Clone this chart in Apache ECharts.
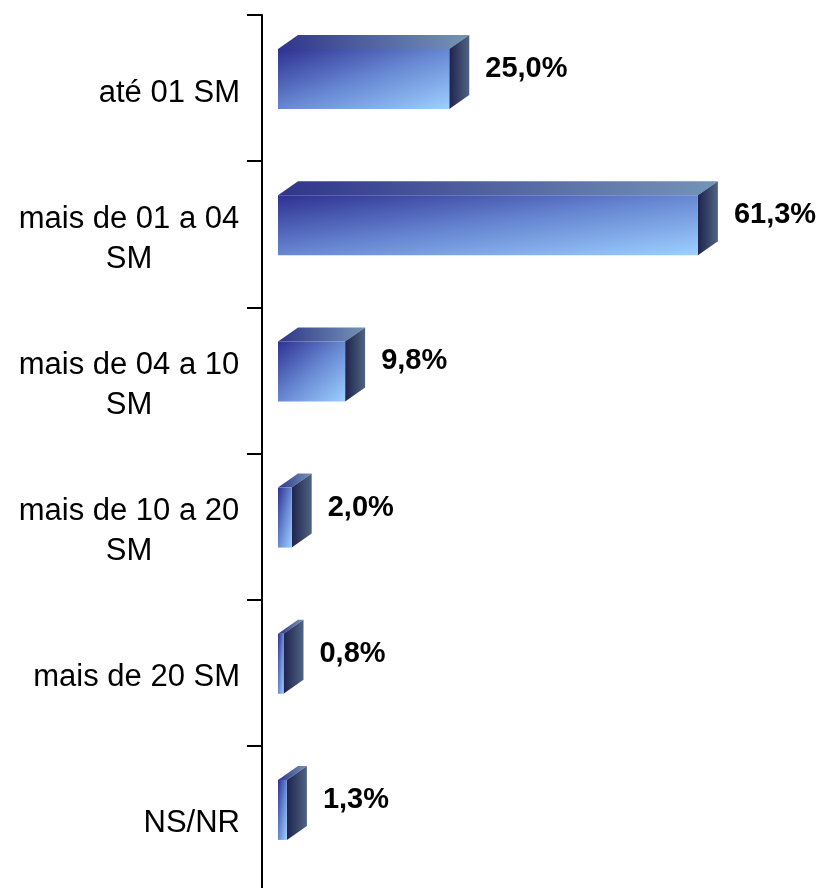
<!DOCTYPE html>
<html>
<head>
<meta charset="utf-8">
<script src="https://cdn.jsdelivr.net/npm/echarts@6/dist/echarts.min.js"></script>
<style>
  html, body { margin: 0; padding: 0; background: #fff; }
  #chart { width: 816px; height: 888px; }
</style>
</head>
<body>
<div id="chart"></div>
<script>
const categories = [
  'até 01 SM',
  'mais de 01 a 04\nSM',
  'mais de 04 a 10\nSM',
  'mais de 10 a 20\nSM',
  'mais de 20 SM',
  'NS/NR',
]
const shares = [25.0, 61.3, 9.8, 2.0, 0.8, 1.3]

const FONT = '"Liberation Sans", Arial, sans-serif'
const DEPTH_X = 20
const DEPTH_Y = 14
const FACE_H = 60

const fmt = (v) => v.toFixed(1).replace('.', ',') + '%'

// diagonal gradient whose isolines run corner to corner (like Office fills)
function diagFill(x, y, w, h, stops) {
  const k = (2 * w * h) / (w * w + h * h)
  return new echarts.graphic.LinearGradient(x, y, x + h * k, y + w * k, stops, true)
}

const frontStops = [
  { offset: 0, color: '#2e3192' },
  { offset: 0.5, color: '#6787d2' },
  { offset: 1, color: '#9dd0ff' },
]
const topFill = new echarts.graphic.LinearGradient(0, 0, 1, 0, [
  { offset: 0, color: '#30358a' },
  { offset: 1, color: '#7494b8' },
])
const sideFill = new echarts.graphic.LinearGradient(0, 0, 1, 0, [
  { offset: 0, color: '#1f234d' },
  { offset: 1, color: '#4f6484' },
])

function renderBox(params, api) {
  const idx = api.value(0)
  const val = api.value(1)
  const end = api.coord([val, idx])
  const start = api.coord([0, idx])
  const x0 = start[0]
  const x1 = end[0]
  const cy = end[1] - 9
  const yTop = cy - FACE_H / 2
  const yBot = cy + FACE_H / 2
  return {
    type: 'group',
    children: [
      {
        type: 'polygon',
        shape: { points: [[x0, yTop], [x0 + DEPTH_X, yTop - DEPTH_Y], [x1 + DEPTH_X, yTop - DEPTH_Y], [x1, yTop]] },
        style: { fill: topFill },
      },
      {
        type: 'polygon',
        shape: { points: [[x1, yTop], [x1 + DEPTH_X, yTop - DEPTH_Y], [x1 + DEPTH_X, yBot - DEPTH_Y], [x1, yBot]] },
        style: { fill: sideFill },
      },
      {
        type: 'rect',
        shape: { x: x0, y: yTop, width: x1 - x0, height: FACE_H },
        style: { fill: diagFill(x0, yTop, x1 - x0, FACE_H, frontStops) },
      },
      {
        type: 'text',
        style: {
          text: fmt(val),
          x: x1 + DEPTH_X + 16,
          y: cy - 10,
          verticalAlign: 'middle',
          align: 'left',
          fill: '#000',
          font: 'bold 29px ' + FONT,
        },
      },
    ],
  }
}

const chart = echarts.init(document.getElementById('chart'))
chart.setOption({
  animation: false,
  backgroundColor: '#fff',
  grid: { left: 278, top: 15, width: 479.5, height: 877, outerBoundsMode: 'none', containLabel: false },
  xAxis: { type: 'value', min: 0, max: 70, show: false },
  yAxis: {
    type: 'category',
    inverse: true,
    data: categories,
    offset: 16,
    axisLine: { show: true, onZero: false, lineStyle: { color: '#000', width: 2 } },
    axisTick: { show: true, length: 15, lineStyle: { color: '#000', width: 2 } },
    axisLabel: {
      margin: 22,
      color: '#000',
      fontFamily: FONT,
      fontSize: 31,
      lineHeight: 40,
      align: 'right',
      padding: [10, 0, 0, 0],
      formatter: (v) => (v.includes('\n') ? '{c|' + v + '}' : v),
      rich: {
        c: { width: 222, align: 'center', fontFamily: FONT, fontSize: 31, lineHeight: 40, color: '#000' },
      },
    },
    splitLine: { show: false },
  },
  series: [
    {
      type: 'custom',
      renderItem: renderBox,
      encode: { x: 1, y: 0 },
      data: shares.map((v, i) => [i, v]),
    },
  ],
})
</script>
</body>
</html>
